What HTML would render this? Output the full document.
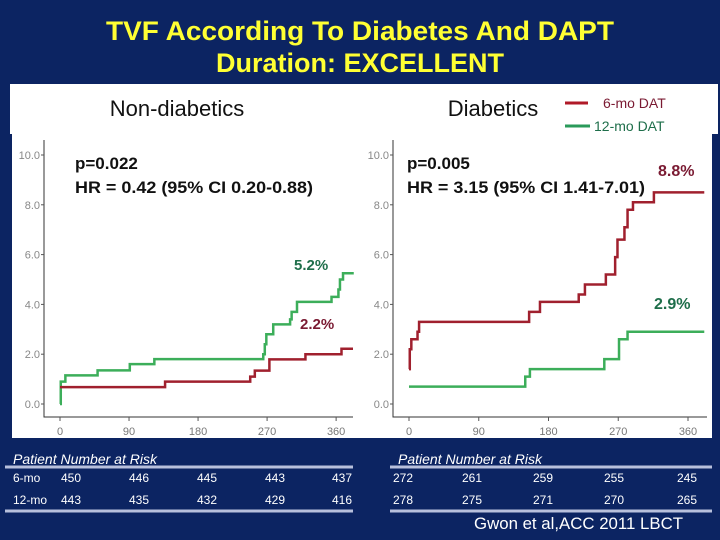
<!DOCTYPE html>
<html><head><meta charset="utf-8"><style>
body{margin:0;background:#0c2462;}
#root{position:relative;width:720px;height:540px;overflow:hidden;background:#0c2462;font-family:"Liberation Sans",Arial,sans-serif;}
svg{position:absolute;left:0;top:0;}
</style></head><body>
<div id="root">
<svg id="s" width="720" height="540" viewBox="0 0 720 540">
<rect x="10" y="84" width="708" height="50" fill="#fff"/>
<rect x="12" y="84" width="700" height="354" fill="#fff"/>
<rect x="357" y="134" width="3" height="304" fill="#fff"/>
<text x="360" y="40" text-anchor="middle" font-size="27" font-weight="bold" fill="#ffff33" textLength="508" lengthAdjust="spacingAndGlyphs">TVF According To Diabetes And DAPT</text>
<text x="360" y="72" text-anchor="middle" font-size="27" font-weight="bold" fill="#ffff33">Duration:  EXCELLENT</text>
<text x="177" y="116" text-anchor="middle" font-size="22" fill="#111">Non-diabetics</text>
<text x="493" y="116" text-anchor="middle" font-size="22" fill="#111">Diabetics</text>
<line x1="565" y1="103" x2="588" y2="103" stroke="#b01a28" stroke-width="3"/>
<text x="603" y="108" font-size="14" fill="#7a1a32">6-mo DAT</text>
<line x1="565" y1="126" x2="590" y2="126" stroke="#2a9a5a" stroke-width="3"/>
<text x="594" y="131" font-size="14" fill="#1e6e4a">12-mo DAT</text>
<g id="plots"></g>
<text x="75" y="169" font-size="17" font-weight="bold" fill="#111">p=0.022</text>
<text x="75" y="193" font-size="17" font-weight="bold" fill="#111" textLength="238" lengthAdjust="spacingAndGlyphs">HR = 0.42 (95% CI 0.20-0.88)</text>
<text x="294" y="270" font-size="15" font-weight="bold" fill="#1e6e4a">5.2%</text>
<text x="300" y="329" font-size="15" font-weight="bold" fill="#7a1a32">2.2%</text>
<text x="407" y="169" font-size="17" font-weight="bold" fill="#111">p=0.005</text>
<text x="407" y="193" font-size="17" font-weight="bold" fill="#111" textLength="238" lengthAdjust="spacingAndGlyphs">HR = 3.15 (95% CI 1.41-7.01)</text>
<text x="658" y="176" font-size="16" font-weight="bold" fill="#7a1a32">8.8%</text>
<text x="654" y="309" font-size="16" font-weight="bold" fill="#1e6e4a">2.9%</text>
<g id="table" font-size="12" fill="#fff"></g>
<text x="474" y="529" font-size="17" fill="#fff" textLength="209" lengthAdjust="spacingAndGlyphs">Gwon et al,ACC 2011 LBCT</text>
</svg>
</div>
<script>
const xTicks=[0,90,180,270,360];
const yTicks=[0,2,4,6,8,10];
const yTickLabels=["0.0","2.0","4.0","6.0","8.0","10.0"];
const leftXTickLabels=["0","90","180","270","360"];
const rightXTickLabels=["0","90","180","270","360"];
const leftRed=[[0,0.68],[137,0.9],[248,1.1],[254,1.34],[273,1.79],[320,2.0],[367,2.22],[382,2.22]];
const leftGreen=[[0,0],[1,0.9],[7,1.15],[49,1.35],[91,1.6],[123,1.8],[265,2.0],[267,2.4],[269,2.8],[278,3.2],[300,3.4],[302,3.7],[309,4.1],[354,4.3],[363,4.6],[365,5.0],[369,5.25],[383,5.25]];
const rightRed=[[0,1.4],[1,2.2],[3,2.6],[11,2.9],[13,3.3],[155,3.7],[169,4.1],[219,4.4],[227,4.8],[254,5.2],[266,5.9],[269,6.6],[278,7.1],[282,7.8],[289,8.1],[316,8.5],[381,8.5]];
const rightGreen=[[0,0.7],[150,1.1],[156,1.4],[252,1.8],[271,2.6],[282,2.9],[381,2.9]];
const riskCols=["0","90","180","270","360"];
const leftRisk6=[450,446,445,443,437];
const leftRisk12=[443,435,432,429,416];
const rightRisk6=[272,261,259,255,245];
const rightRisk12=[278,275,271,270,265];

const NS="http://www.w3.org/2000/svg";
function mk(tag,attrs,parent){const e=document.createElementNS(NS,tag);for(const k in attrs)e.setAttribute(k,attrs[k]);parent.appendChild(e);return e;}
const plots=document.getElementById('plots');
function panel(cfg){
  const xs=d=>cfg.x0+d*cfg.kx, ys=v=>404-v*24.9;
  const g=mk('g',{},plots);
  
  
  const ax=mk('path',{d:`M${cfg.axL},140 V417 H${cfg.axR}`,stroke:'#333',fill:'none','stroke-width':1},g);
  
  
  yTicks.forEach((t,i)=>{
    mk('line',{x1:cfg.axL-3,x2:cfg.axL,y1:ys(t),y2:ys(t),stroke:'#555'},g);
    const tx=mk('text',{x:cfg.axL-4,y:ys(t)+4,'text-anchor':'end','font-size':11,fill:'#888'},g);
    tx.textContent=yTickLabels[i];
    
    
  });
  xTicks.forEach((t,i)=>{
    mk('line',{x1:xs(t),x2:xs(t),y1:417,y2:421,stroke:'#555'},g);
    const tx=mk('text',{x:xs(t),y:435,'text-anchor':'middle','font-size':11,fill:'#777'},g);
    tx.textContent=cfg.labels[i];
    
    
  });
  [[cfg.green,'#3cae5a','12-mo-curve'],[cfg.red,'#a0202e','6-mo-curve']].forEach(([data,col,nm])=>{
    let d=`M${xs(data[0][0])},${ys(data[0][1])}`;
    for(let i=1;i<data.length;i++){d+=` H${xs(data[i][0])} V${ys(data[i][1])}`;}
    const p=mk('path',{d:d,stroke:col,'stroke-width':2.5,fill:'none'},g);
    
    
  });
}
panel({name:'left-plot',x0:60,kx:0.767,axL:44,axR:353,labels:leftXTickLabels,red:leftRed,green:leftGreen});
panel({name:'right-plot',x0:409,kx:0.775,axL:393,axR:707,labels:rightXTickLabels,red:rightRed,green:rightGreen});

const tb=document.getElementById('table');
function table(x0,colX,r6,r12,showLabels,nm){
  const g=mk('g',{},tb);
  
  
  const h=mk('text',{x:x0+8,y:464,'font-style':'italic','font-size':14},g);
  h.textContent='Patient Number at Risk';
  
  
  mk('line',{x1:x0,x2:x0+(nm==='left-risk-table'?348:322),y1:467,y2:467,stroke:'#b8c0dc','stroke-width':3},g);
  mk('line',{x1:x0,x2:x0+(nm==='left-risk-table'?348:322),y1:511,y2:511,stroke:'#b8c0dc','stroke-width':3},g);
  if(showLabels){
    const a=mk('text',{x:13,y:482},g);a.textContent='6-mo';
    
    
    const b=mk('text',{x:13,y:504},g);b.textContent='12-mo';
    
    
  }
  [[r6,482],[r12,504]].forEach(([row,y])=>row.forEach((v,i)=>{
    const t=mk('text',{x:colX[i],y:y,'text-anchor':i===4?'end':'start'},g);
    t.textContent=v;
    
    
  }));
}
table(5,[61,129,197,265,352],leftRisk6,leftRisk12,true,'left-risk-table');
table(390,[393,462,533,604,697],rightRisk6,rightRisk12,false,'right-risk-table');
</script>
</body></html>
